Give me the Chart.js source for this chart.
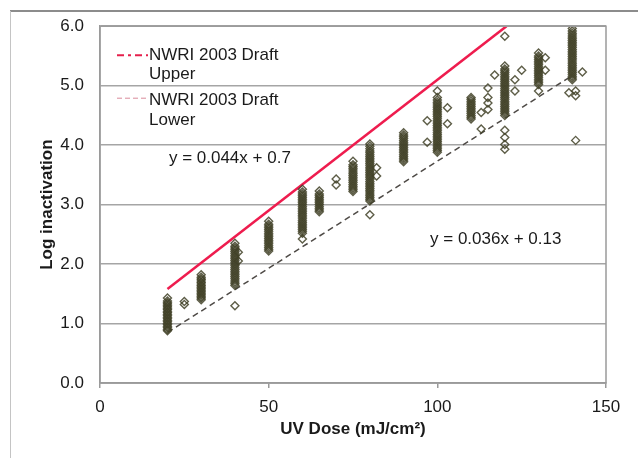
<!DOCTYPE html>
<html>
<head>
<meta charset="utf-8">
<script src="https://cdn.jsdelivr.net/npm/chart.js@4.4.1/dist/chart.umd.min.js"></script>
<style>
  body { margin: 0; background: #fff; }
  #wrap { width: 638px; height: 458px; }
</style>
</head>
<body>
<div id="wrap"><canvas id="chart" width="638" height="458"></canvas></div>
<script>
// measured doses (mJ/cm2) and the log inactivation readings at each one
const doses = [20, 25, 30, 40, 41, 50, 60, 65, 70, 75, 80, 82, 90, 97, 100, 103, 110, 113, 115, 117, 120, 123, 125, 130, 132, 139, 140, 141, 143];
const logInact = [
    [0.88, 0.90, 0.93, 0.95, 0.98, 1.00, 1.03, 1.05, 1.08, 1.10, 1.13, 1.15, 1.18, 1.20, 1.23, 1.25, 1.28, 1.30, 1.33, 1.35, 1.38, 1.43],
    [1.32, 1.37],
    [1.40, 1.43, 1.45, 1.48, 1.50, 1.53, 1.55, 1.58, 1.60, 1.63, 1.65, 1.68, 1.70, 1.73, 1.75, 1.78, 1.82],
    [1.30, 1.64, 1.67, 1.70, 1.73, 1.76, 1.79, 1.82, 1.85, 1.88, 1.91, 1.94, 1.97, 2.00, 2.03, 2.06, 2.09, 2.12, 2.15, 2.18, 2.21, 2.24, 2.27, 2.30, 2.35],
    [2.05, 2.20],
    [2.22, 2.25, 2.28, 2.31, 2.34, 2.37, 2.40, 2.43, 2.46, 2.49, 2.52, 2.55, 2.58, 2.61, 2.64, 2.67, 2.72],
    [2.42, 2.52, 2.55, 2.58, 2.61, 2.64, 2.67, 2.70, 2.73, 2.76, 2.79, 2.82, 2.85, 2.88, 2.91, 2.94, 2.97, 3.00, 3.03, 3.06, 3.09, 3.12, 3.15, 3.18, 3.21, 3.26],
    [2.88, 2.91, 2.94, 2.97, 3.00, 3.03, 3.06, 3.09, 3.12, 3.15, 3.18, 3.23],
    [3.33, 3.43],
    [3.22, 3.25, 3.28, 3.31, 3.34, 3.37, 3.40, 3.43, 3.46, 3.49, 3.52, 3.55, 3.58, 3.61, 3.64, 3.67, 3.73],
    [2.83, 3.06, 3.09, 3.12, 3.15, 3.18, 3.21, 3.24, 3.27, 3.30, 3.33, 3.36, 3.39, 3.42, 3.45, 3.48, 3.51, 3.54, 3.57, 3.60, 3.63, 3.66, 3.69, 3.72, 3.75, 3.78, 3.81, 3.84, 3.87, 3.90, 3.94, 3.98, 4.02],
    [3.48, 3.62],
    [3.72, 3.75, 3.78, 3.81, 3.84, 3.87, 3.90, 3.93, 3.96, 3.99, 4.02, 4.05, 4.08, 4.11, 4.14, 4.17, 4.21],
    [4.05, 4.41],
    [3.88, 3.91, 3.94, 3.97, 4.00, 4.03, 4.06, 4.09, 4.12, 4.15, 4.18, 4.21, 4.24, 4.27, 4.30, 4.33, 4.36, 4.39, 4.42, 4.45, 4.48, 4.51, 4.54, 4.57, 4.60, 4.63, 4.66, 4.69, 4.72, 4.76, 4.80, 4.91],
    [4.36, 4.63],
    [4.44, 4.47, 4.50, 4.53, 4.56, 4.59, 4.62, 4.65, 4.68, 4.71, 4.74, 4.77, 4.80],
    [4.27, 4.55],
    [4.60, 4.71, 4.80, 4.96],
    [5.18],
    [3.93, 4.01, 4.13, 4.25, 4.50, 4.53, 4.56, 4.59, 4.62, 4.65, 4.68, 4.71, 4.74, 4.77, 4.80, 4.83, 4.86, 4.89, 4.92, 4.95, 4.98, 5.01, 5.04, 5.07, 5.10, 5.13, 5.16, 5.19, 5.22, 5.25, 5.28, 5.33, 5.83],
    [4.91, 5.10],
    [5.26],
    [4.91, 5.02, 5.05, 5.08, 5.11, 5.14, 5.17, 5.20, 5.23, 5.26, 5.29, 5.32, 5.35, 5.38, 5.41, 5.44, 5.47, 5.50, 5.55],
    [5.26, 5.47],
    [4.88],
    [5.10, 5.13, 5.16, 5.19, 5.22, 5.25, 5.28, 5.31, 5.34, 5.37, 5.40, 5.43, 5.46, 5.49, 5.52, 5.55, 5.58, 5.61, 5.64, 5.67, 5.70, 5.73, 5.76, 5.79, 5.82, 5.85, 5.88, 5.92, 5.96],
    [4.08, 4.83, 4.91],
    [5.23]
];

// NWRI 2003 draft bounds, end points
const upperX = [20, 120.5];
const upperY = [1.58, 6.0];
const lowerX = [20, 140];
const lowerY = [0.85, 5.17];

const xTicks = [0, 50, 100, 150];
const yTicks = [0, 1, 2, 3, 4, 5, 6];

const FONT = "'Liberation Sans', Arial, sans-serif";

const points = [];
doses.forEach((d, i) => {
    logInact[i].forEach(v => points.push({ x: d, y: v }));
});
const toXY = (xs, ys) => xs.map((v, i) => ({ x: v, y: ys[i] }));

// frame, plot box, legend and the two equation labels
const decor = {
    id: 'decor',
    beforeDraw(chart) {
        const ctx = chart.ctx;
        ctx.save();
        ctx.fillStyle = '#fff';
        ctx.fillRect(0, 0, chart.width, chart.height);
        ctx.strokeStyle = '#8c8c8c';
        ctx.lineWidth = 2;
        ctx.beginPath();
        ctx.moveTo(10, 11);
        ctx.lineTo(chart.width, 11);
        ctx.stroke();
        ctx.strokeStyle = '#c4c4c4';
        ctx.lineWidth = 1;
        ctx.beginPath();
        ctx.moveTo(10.5, 11);
        ctx.lineTo(10.5, chart.height);
        ctx.stroke();
        ctx.restore();
    },
    afterDraw(chart) {
        const { ctx, chartArea: a, scales } = chart;
        ctx.save();
        ctx.strokeStyle = '#9a9a9a';
        ctx.lineWidth = 1.5;
        ctx.strokeRect(a.left, a.top, a.right - a.left, a.bottom - a.top);

        // legend
        ctx.font = '17px ' + FONT;
        ctx.fillStyle = '#1a1a1a';
        ctx.textBaseline = 'middle';
        ctx.textAlign = 'left';
        const tx = a.left + 49;
        ctx.fillText('NWRI 2003 Draft', tx, a.top + 29);
        ctx.fillText('Upper', tx, a.top + 48);
        ctx.fillText('NWRI 2003 Draft', tx, a.top + 74);
        ctx.fillText('Lower', tx, a.top + 94);

        ctx.strokeStyle = '#e5204c';
        ctx.lineWidth = 2;
        ctx.setLineDash([7, 4, 3, 4]);
        ctx.beginPath();
        ctx.moveTo(a.left + 17, a.top + 29);
        ctx.lineTo(a.left + 48, a.top + 29);
        ctx.stroke();
        ctx.strokeStyle = '#d98a9a';
        ctx.lineWidth = 1;
        ctx.setLineDash([5, 3]);
        ctx.beginPath();
        ctx.moveTo(a.left + 17, a.top + 72);
        ctx.lineTo(a.left + 48, a.top + 72);
        ctx.stroke();
        ctx.setLineDash([]);

        // trend equations
        ctx.textAlign = 'center';
        ctx.fillText('y = 0.044x + 0.7', scales.x.getPixelForValue(38.5), scales.y.getPixelForValue(3.78));
        ctx.fillText('y = 0.036x + 0.13', scales.x.getPixelForValue(117.3), scales.y.getPixelForValue(2.41));
        ctx.restore();
    }
};

const ctx = document.getElementById('chart').getContext('2d');
const chart = new Chart(ctx, {
    type: 'scatter',
    data: {
        datasets: [
            {
                label: 'Measured',
                data: points,
                pointStyle: 'rectRot',
                pointRadius: 4,
                pointBorderWidth: 1.4,
                pointBorderColor: 'rgba(66, 66, 40, 0.85)',
                pointBackgroundColor: 'rgba(0, 0, 0, 0)'
            },
            {
                label: 'NWRI 2003 Draft Upper',
                data: toXY(upperX, upperY),
                showLine: true,
                pointRadius: 0,
                borderColor: '#ee1c4e',
                borderWidth: 2.5
            },
            {
                label: 'NWRI 2003 Draft Lower',
                data: toXY(lowerX, lowerY),
                showLine: true,
                pointRadius: 0,
                borderColor: '#4e4a46',
                borderWidth: 1.5,
                borderDash: [6, 4]
            }
        ]
    },
    options: {
        responsive: false,
        animation: false,
        events: [],
        layout: { padding: { left: 33, top: 23, right: 32, bottom: 14 } },
        plugins: {
            legend: { display: false },
            tooltip: { enabled: false }
        },
        scales: {
            x: {
                type: 'linear',
                min: 0,
                max: 150,
                afterBuildTicks: s => { s.ticks = xTicks.map(v => ({ value: v })); },
                afterFit: s => { s.height = 61; },
                ticks: { color: '#1a1a1a', padding: 9, maxRotation: 0, font: { family: FONT, size: 17 } },
                grid: { drawOnChartArea: false, drawTicks: true, tickLength: 5, color: '#9a9a9a', lineWidth: 1.5 },
                border: { color: '#9a9a9a', width: 1.5 },
                title: {
                    display: true,
                    text: 'UV Dose (mJ/cm²)',
                    color: '#1a1a1a',
                    font: { family: FONT, size: 17, weight: 'bold' }
                }
            },
            y: {
                min: 0,
                max: 6,
                afterBuildTicks: s => { s.ticks = yTicks.map(v => ({ value: v })); },
                afterFit: s => { s.width = 67; },
                ticks: {
                    color: '#1a1a1a',
                    padding: 16,
                    font: { family: FONT, size: 17 },
                    callback: v => Number(v).toFixed(1)
                },
                grid: { color: '#a5a5a5', lineWidth: 1.5, drawTicks: false },
                border: { color: '#9a9a9a', width: 1.5 },
                title: {
                    display: true,
                    text: 'Log inactivation',
                    color: '#1a1a1a',
                    font: { family: FONT, size: 17, weight: 'bold' }
                }
            }
        }
    },
    plugins: [decor]
});
</script>
</body>
</html>
